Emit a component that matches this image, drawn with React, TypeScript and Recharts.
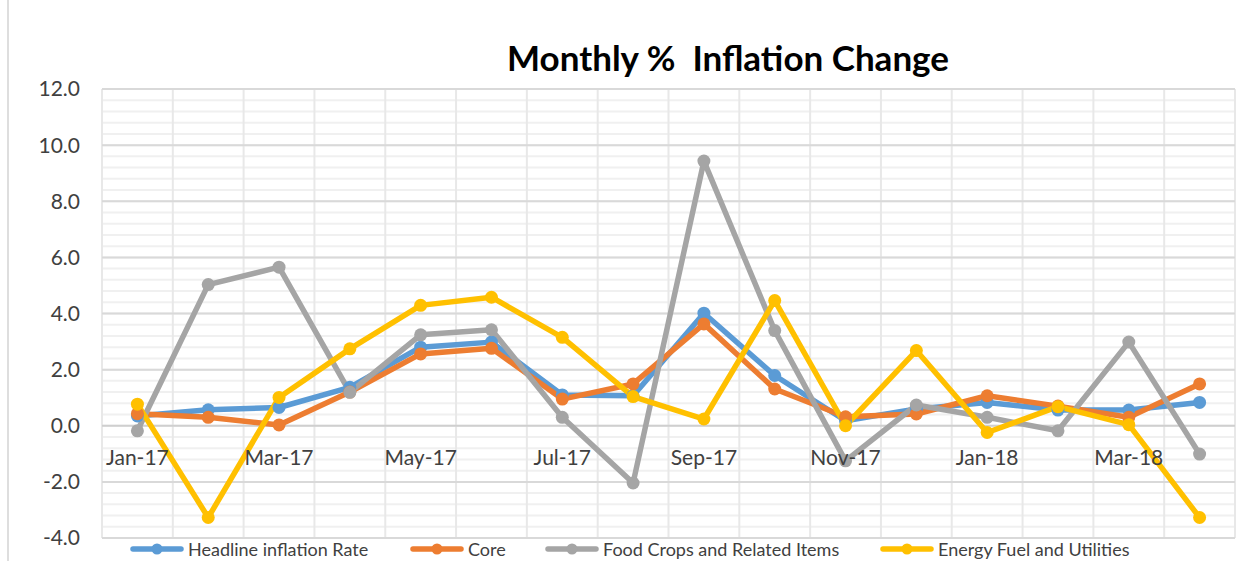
import { LineChart, Line, XAxis, YAxis, CartesianGrid, ReferenceLine, ReferenceDot } from 'recharts'

const months = ['Jan-17', 'Feb-17', 'Mar-17', 'Apr-17', 'May-17', 'Jun-17', 'Jul-17', 'Aug-17', 'Sep-17', 'Oct-17', 'Nov-17', 'Dec-17', 'Jan-18', 'Feb-18', 'Mar-18', 'Apr-18']
const headline = [0.35, 0.57, 0.65, 1.37, 2.8, 2.98, 1.1, 1.07, 4.01, 1.79, 0.18, 0.6, 0.83, 0.56, 0.56, 0.83]
const core = [0.43, 0.3, 0.03, 1.2, 2.56, 2.76, 0.95, 1.49, 3.63, 1.31, 0.32, 0.42, 1.07, 0.7, 0.3, 1.49]
const food = [-0.18, 5.03, 5.65, 1.19, 3.24, 3.42, 0.3, -2.04, 9.43, 3.39, -1.25, 0.74, 0.3, -0.18, 2.98, -1.01]
const energy = [0.77, -3.27, 1.01, 2.74, 4.29, 4.58, 3.15, 1.04, 0.24, 4.46, 0.0, 2.68, -0.24, 0.68, 0.04, -3.27]

const labelIdx = [0, 2, 4, 6, 8, 10, 12, 14]
const yTicks = [-4, -2, 0, 2, 4, 6, 8, 10, 12]
const minorTicks = [-4, -3.6, -3.2, -2.8, -2.4, -2, -1.6, -1.2, -0.8, -0.4, 0, 0.4, 0.8, 1.2, 1.6, 2, 2.4, 2.8, 3.2, 3.6, 4, 4.4, 4.8, 5.2, 5.6, 6, 6.4, 6.8, 7.2, 7.6, 8, 8.4, 8.8, 9.2, 9.6, 10, 10.4, 10.8, 11.2, 11.6, 12]
const xBounds = [-0.5, 0.5, 1.5, 2.5, 3.5, 4.5, 5.5, 6.5, 7.5, 8.5, 9.5, 10.5, 11.5, 12.5, 13.5, 14.5, 15.5]

const series = [
  { key: 'headline', name: 'Headline inflation Rate', color: '#5B9BD5' },
  { key: 'core', name: 'Core', color: '#ED7D31' },
  { key: 'food', name: 'Food Crops and Related Items', color: '#A5A5A5' },
  { key: 'energy', name: 'Energy Fuel and Utilities', color: '#FFC000' },
]

const data = months.map((m, i) => ({
  idx: i,
  month: m,
  headline: headline[i],
  core: core[i],
  food: food[i],
  energy: energy[i],
}))

const FONT = 'Lato, "Open Sans", sans-serif'
const legendLeft = [130, 410, 545, 880]

const NoTick = () => <g />

// only the major values (every 2) get a label
const yLabel = (v: number) => (yTicks.includes(v) ? v.toFixed(1) : '')

export default function App() {
  return (
    <div style={{ position: 'absolute', left: 0, top: 0, width: 1252, height: 561, background: '#fff', overflow: 'hidden' }}>
      <div style={{ position: 'absolute', left: 7, top: 0, width: 2, height: 561, background: '#dedede' }} />
      <div
        style={{
          position: 'absolute',
          left: 428,
          width: 600,
          top: 36,
          textAlign: 'center',
          fontFamily: FONT,
          fontWeight: 700,
          fontSize: 35,
          color: '#000',
        }}
      >
        Monthly %&nbsp; Inflation Change
      </div>
      <LineChart width={1252} height={561} data={data} margin={{ top: 89, right: 17, bottom: 23, left: 0 }}>
        <CartesianGrid stroke="#f0f0f0" strokeWidth={2} horizontal={true} vertical={false} />
        <CartesianGrid stroke="#e8e8e8" strokeWidth={2} horizontal={false} vertical={true} />
        <XAxis
          type="number"
          dataKey="idx"
          domain={[-0.5, 15.5]}
          ticks={xBounds}
          tick={NoTick}
          axisLine={false}
          tickLine={false}
          height={0}
        />
        <YAxis
          domain={[-4, 12]}
          ticks={minorTicks}
          interval={0}
          width={102}
          axisLine={false}
          tickLine={false}
          tickSize={6}
          tickMargin={16}
          tickFormatter={yLabel}
          tick={{ fontFamily: FONT, fontSize: 21, fill: '#404040' }}
        />
        {yTicks.map(v => (
          <ReferenceLine key={v} y={v} stroke={v === 0 ? '#cfcfcf' : '#d9d9d9'} strokeWidth={2} />
        ))}
        {labelIdx.map(i => (
          <ReferenceDot
            key={months[i]}
            x={i}
            y={0}
            r={0}
            fill="none"
            stroke="none"
            label={{ value: months[i], position: 'bottom', offset: 24, fontFamily: FONT, fontSize: 21, fill: '#404040' }}
          />
        ))}
        {series.map(s => (
          <Line
            key={s.key}
            type="linear"
            dataKey={s.key}
            name={s.name}
            stroke={s.color}
            strokeWidth={5.5}
            strokeLinejoin="round"
            strokeLinecap="round"
            dot={{ r: 6.5, fill: s.color, stroke: s.color, strokeWidth: 0 }}
            activeDot={false}
            isAnimationActive={false}
          />
        ))}
      </LineChart>
      {series.map((s, i) => (
        <div
          key={s.key}
          style={{
            position: 'absolute',
            left: legendLeft[i],
            top: 538,
            height: 22,
            display: 'flex',
            alignItems: 'center',
            fontFamily: FONT,
            fontSize: 18,
            color: '#404040',
            whiteSpace: 'nowrap',
          }}
        >
          <svg width={54} height={14} style={{ marginRight: 4 }}>
            <line x1={3} y1={7} x2={51} y2={7} stroke={s.color} strokeWidth={5.5} strokeLinecap="round" />
            <circle cx={27} cy={7} r={5.5} fill={s.color} />
          </svg>
          <span>{s.name}</span>
        </div>
      ))}
    </div>
  )
}
